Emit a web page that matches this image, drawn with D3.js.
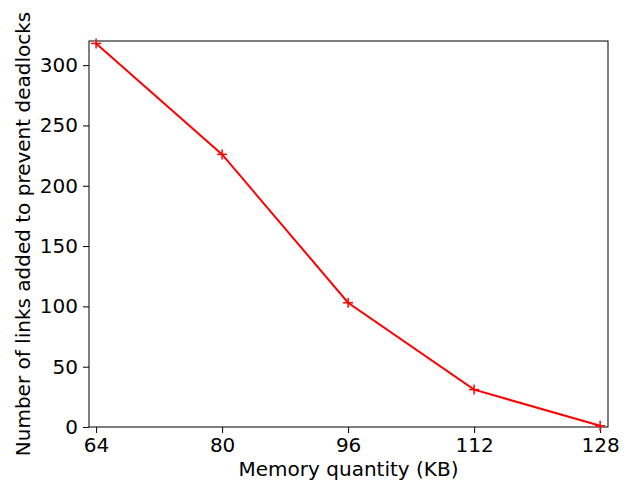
<!DOCTYPE html>
<html>
<head>
<meta charset="utf-8">
<script src="https://cdn.jsdelivr.net/npm/d3@7"></script>
<style>
  body { margin: 0; background: #fff; }
  text { font-family: "DejaVu Sans", sans-serif; }
</style>
</head>
<body>
<div id="chart"></div>
<script>
// memory sizes (KB) and links added
let memory = [64, 80, 96, 112, 128];
let links = [318, 226, 103, 31, 1];
let xTicks = [64, 80, 96, 112, 128];
let yTicks = [0, 50, 100, 150, 200, 250, 300];

let width = 635, height = 484;
let margin = { top: 41, right: 27, bottom: 57, left: 89 };

let svg = d3.select("#chart")
    .append("svg")
        .attr("width", width)
        .attr("height", height);

let xScale = d3.scaleLinear()
    .domain([63.1, 129])
    .range([margin.left, width - margin.right]);

let yScale = d3.scaleLinear()
    .domain([0, 320])
    .range([height - margin.bottom, margin.top]);

// x axis
let xAxis = svg.append("g")
    .attr("transform", `translate(0, ${height - margin.bottom})`)
    .call(d3.axisBottom(xScale).tickValues(xTicks).tickSize(6).tickPadding(5).tickFormat(d3.format("d")));

// y axis
let yAxis = svg.append("g")
    .attr("transform", `translate(${margin.left}, 0)`)
    .call(d3.axisLeft(yScale).tickValues(yTicks).tickSize(6).tickPadding(5));

[xAxis, yAxis].forEach(g => {
    g.select(".domain").remove();
    g.selectAll("line").attr("stroke", "#000").attr("stroke-width", 1);
    g.selectAll("text").attr("font-size", "20px").attr("fill", "#000")
        .style("font-family", "DejaVu Sans, sans-serif");
});

// frame
svg.append("rect")
    .attr("x", margin.left)
    .attr("y", margin.top)
    .attr("width", width - margin.left - margin.right)
    .attr("height", height - margin.top - margin.bottom)
    .attr("fill", "none")
    .attr("stroke", "#000")
    .attr("stroke-width", 1);

// line
let line = d3.line()
    .x((d, i) => xScale(memory[i]))
    .y(d => yScale(d));

svg.append("path")
    .datum(links)
    .attr("d", line)
    .attr("fill", "none")
    .attr("stroke", "red")
    .attr("stroke-width", 2);

// plus markers
let m = 5;
let pts = svg.append("g").selectAll("g")
    .data(links)
    .enter()
    .append("g")
        .attr("transform", (d, i) => `translate(${xScale(memory[i])}, ${yScale(d)})`);
pts.append("line").attr("x1", -m).attr("x2", m).attr("stroke", "red").attr("stroke-width", 1.5);
pts.append("line").attr("y1", -m).attr("y2", m).attr("stroke", "red").attr("stroke-width", 1.5);

// axis labels
svg.append("text")
    .attr("x", (margin.left + width - margin.right) / 2)
    .attr("y", 476)
    .attr("text-anchor", "middle")
    .attr("font-size", "20px")
    .text("Memory quantity (KB)");

svg.append("text")
    .attr("transform", `translate(30, ${(margin.top + height - margin.bottom) / 2}) rotate(-90)`)
    .attr("text-anchor", "middle")
    .attr("font-size", "20px")
    .text("Number of links added to prevent deadlocks");
</script>
</body>
</html>
